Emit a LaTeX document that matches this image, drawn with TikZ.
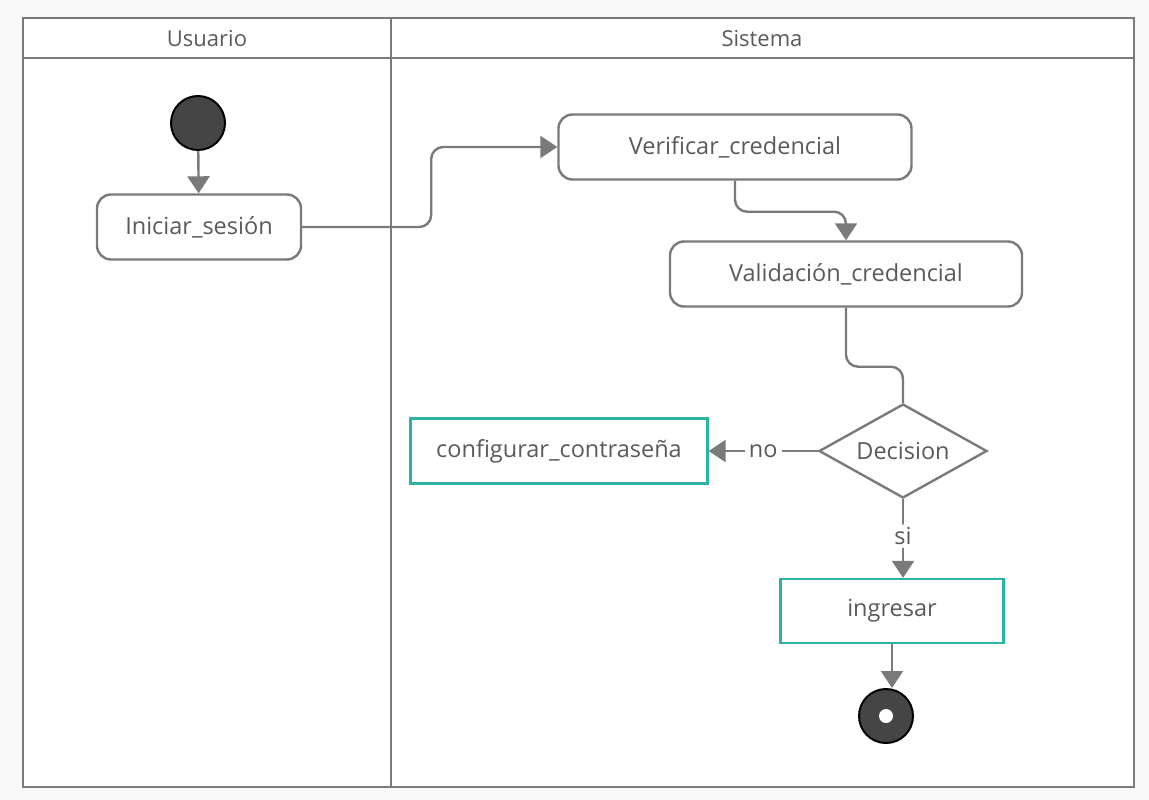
\documentclass[tikz,border=0pt]{standalone}
\usepackage{fontspec}
\setmainfont{Open Sans}
\usepackage{tikz}
\usetikzlibrary{shapes.geometric,arrows.meta}

\definecolor{lgray}{HTML}{7A7A7A}
\definecolor{tgray}{HTML}{5A5A5A}
\definecolor{teal2}{HTML}{2DB3A6}
\definecolor{dark}{HTML}{454545}
\definecolor{paper}{HTML}{F8F8F8}

\begin{document}
\begin{tikzpicture}[
  x=1pt, y=-1pt,
  every node/.style={font=\fontsize{23.5}{26}\selectfont, text=tgray},
  act/.style={draw=lgray, line width=2.4pt, rounded corners=14pt, fill=white, minimum height=65pt},
  task/.style={draw=teal2, line width=2.4pt, fill=white, minimum height=65pt},
  dec/.style={diamond, aspect=1.79, draw=lgray, line width=2.4pt, fill=white, minimum width=168pt, minimum height=94pt, inner sep=0pt},
  startst/.style={circle, draw=black, line width=2pt, fill=dark, minimum size=54pt, inner sep=0pt},
  flow/.style={draw=lgray, line width=2.4pt, rounded corners=12pt, -{Triangle[width=22pt,length=17pt]}},
  lane/.style={draw=lgray, line width=2.8pt},
]
\useasboundingbox[fill=paper] (0,0) rectangle (1149,800);

% swimlanes
\filldraw[lane, fill=white] (23,18) rectangle (1134,787);
\draw[lane] (23,58) -- (1134,58);
\draw[lane] (391,18) -- (391,787);
\node (usr) at (207,39) {\fontsize{22}{24}\selectfont Usuario};
\node (sys) at (762,39) {\fontsize{22}{24}\selectfont Sistema};

% nodes
\node[startst] (ini0) at (198,123) {};
\node[act, minimum width=204pt] (ini) at (199,227) {Iniciar\_sesión};
\node[act, minimum width=353pt] (ver) at (735,147) {Verificar\_credencial};
\node[act, minimum width=352pt] (val) at (846,274) {Validación\_credencial};
\node[dec] (dcs) at (903,451) {Decision};
\node[task, minimum width=297pt] (cfg) at (559,451) {configurar\_contraseña};
\node[task, minimum width=223pt, minimum height=64pt] (ing) at (892,611) {ingresar};
\node[startst] (fin) at (886,716) {};
\fill[white] (fin) circle (7pt);

% flows
\draw[flow] (ini0) -- (ini);
\draw[flow] (ini.east) -- ++(129,0) |- (ver.west);
\draw[flow] (ver.south) -- ++(0,31) -| (val.north);
\draw[flow, -] (val.south) -- ++(0,59) -| (dcs.north);
\draw[flow, rounded corners=0pt] (dcs.west) -- node[fill=white, inner sep=4pt] {no} (cfg.east);
\draw[flow] (dcs.south) -- node[fill=white, inner sep=3pt, pos=0.47] {si} (dcs.south |- ing.north);
\draw[flow] (ing.south) -- (ing.south |- fin.north);
\end{tikzpicture}
\end{document}
